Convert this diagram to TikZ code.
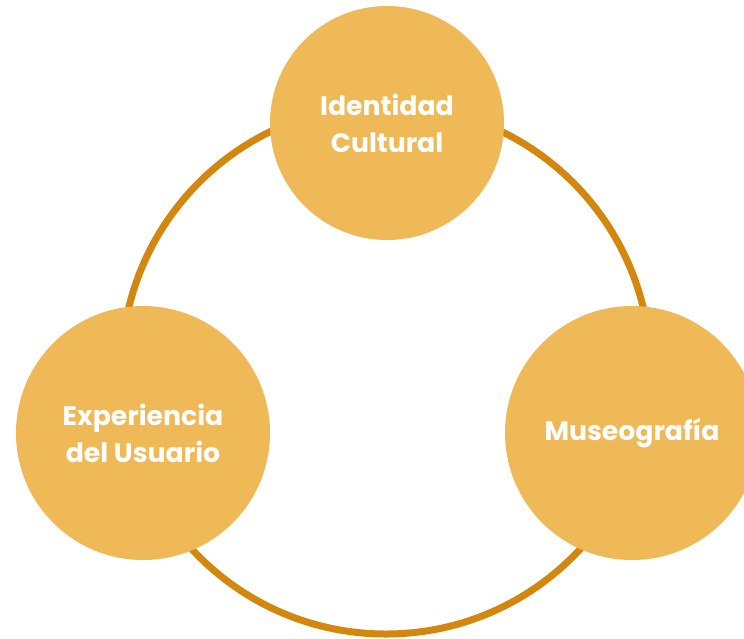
\documentclass[tikz,border=0pt]{standalone}
\usepackage{fontspec}
\setmainfont{Poppins}[BoldFont={* Bold}]
\definecolor{ringc}{RGB}{212,135,14}
\definecolor{fillc}{RGB}{239,185,87}
\begin{document}
\begin{tikzpicture}[x=1pt,y=-1pt,
  bubble/.style={circle, fill=fillc, draw=none, inner sep=0pt, text=white,
    font=\fontsize{26.7}{37}\selectfont\bfseries, align=center},
  ringline/.style={draw=ringc, line width=7pt}]
\useasboundingbox (0,0) rectangle (744,638);
\clip (0,0) rectangle (744,638);
\fill[white] (0,0) rectangle (744,638);
\coordinate (rc) at (386,369.5);
\draw[ringline] (rc) circle[radius=264.5];
\node[bubble, minimum size=234pt] (top) at (387,123) {Identidad\\Cultural};
\node[bubble, minimum size=254pt] (left) at (143,433) {Experiencia\\del Usuario};
\node[bubble, minimum size=254pt] (right) at (632,433) {Museografía};
\end{tikzpicture}
\end{document}
